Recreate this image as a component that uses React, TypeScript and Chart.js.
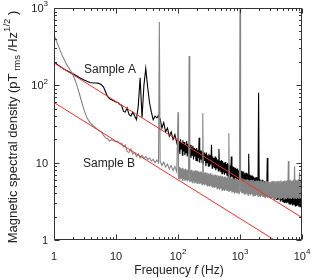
import React, { useEffect, useRef } from 'react';
import { Chart, registerables } from 'chart.js';
Chart.register(...registerables);

// Frequencies (Hz) shared by both spectra
const FREQ = [
  1, 1.2, 1.4, 1.6, 1.8, 2, 2.3, 2.6, 3, 3.4, 3.8, 4.3, 4.8, 5.3, 5.8, 6.3, 6.8, 7.3, 7.9, 8.5, 9.2, 10,
  10.7, 11.5, 12.3, 13.2, 14.1, 15.1, 16.2, 17.4, 18.6, 20, 21.4, 22.9, 24.5, 26.3, 28.2, 30.2, 32.4, 34.7,
  37.2, 39.8, 42.7, 45.7, 48.5, 50, 51.5, 55, 58.9, 63.1, 67.6, 72.4, 77.6, 83.2, 89.1, 95.5,
  100, 102, 105, 107, 110, 112, 115, 118, 120, 123,
  126, 129, 132, 135, 138, 141, 145, 148, 151, 155,
  158, 162, 166, 170, 174, 178, 182, 186, 191, 195,
  200, 204, 209, 214, 219, 224, 229, 234, 240, 245,
  251, 257, 263, 269, 275, 282, 288, 295, 302, 309,
  316, 324, 331, 339, 347, 355, 363, 372, 380, 389,
  398, 407, 417, 427, 437, 447, 457, 468, 479, 490,
  501, 513, 525, 537, 550, 562, 575, 589, 603, 617,
  631, 646, 661, 676, 692, 708, 724, 741, 759, 776,
  794, 813, 832, 851, 871, 891, 912, 933, 955, 977,
  1000, 1023, 1047, 1072, 1096, 1122, 1148, 1175, 1202, 1230,
  1259, 1288, 1318, 1349, 1380, 1413, 1445, 1479, 1514, 1549,
  1585, 1622, 1660, 1698, 1738, 1778, 1820, 1862, 1905, 1950,
  1995, 2042, 2089, 2138, 2188, 2239, 2291, 2344, 2399, 2455,
  2512, 2570, 2630, 2692, 2754, 2818, 2884, 2951, 3020, 3090,
  3162, 3236, 3311, 3388, 3467, 3548, 3631, 3715, 3802, 3890,
  3981, 4074, 4169, 4266, 4365, 4467, 4571, 4677, 4786, 4898,
  5012, 5129, 5248, 5370, 5495, 5623, 5754, 5888, 6026, 6166,
  6310, 6457, 6607, 6761, 6918, 7079, 7244, 7413, 7586, 7762,
  7943, 8128, 8318, 8511, 8710, 8913, 9120, 9333, 9550, 9772,
  10000,
];

// Sample A (black)
const SAMPLE_A = [
  200, 180, 165, 155, 148, 142, 133, 125, 118, 113, 109, 107, 107, 106, 102, 95, 82, 72, 67, 65, 63, 61,
  60, 57, 55, 46, 45, 51, 42, 40, 45, 40, 36, 55, 125, 38, 100, 165, 95, 60,
  45, 36, 40, 38, 41, 38, 37, 28, 33, 25, 28, 22, 25, 20, 23, 18,
  21, 14, 19, 13, 20, 15, 18, 12.5, 19.5, 14,
  18.5, 12.5, 17, 13.5, 19, 12, 17.5, 13, 16, 12,
  17, 11.5, 16, 12.5, 16.5, 11, 15.5, 12, 15, 10.5,
  15.5, 10.5, 14.5, 11.5, 21, 10, 14.5, 11, 14, 10,
  14, 9.5, 13.5, 10.5, 13, 9, 13.5, 10, 12.5, 9,
  13, 9, 12.5, 9.5, 17, 8.5, 12, 9, 11.5, 8.5,
  12, 8, 11.5, 8.5, 11, 7.8, 15, 8, 10.5, 7.5,
  10.8, 7.2, 10.5, 7.6, 10, 7, 10.2, 7.3, 9.6, 6.8,
  9.8, 6.6, 9.5, 7, 9.2, 6.4, 12, 6.6, 9, 6.2,
  8.8, 6, 8.6, 6.3, 8.3, 5.8, 8.4, 6, 8, 5.6,
  8, 5.4, 7.8, 5.6, 7.6, 5.2, 7.7, 5.4, 7.3, 5.1,
  7.4, 5, 7.2, 5.2, 13, 4.8, 7, 5, 6.8, 4.7,
  6.8, 4.5, 6.6, 4.7, 6.4, 4.4, 6.5, 4.5, 6.2, 4.3,
  80, 4.2, 6.1, 4.3, 5.9, 4, 6, 4.2, 5.7, 3.9,
  5.8, 3.9, 5.6, 4, 11.5, 3.7, 5.4, 3.8, 5.2, 3.6,
  5.3, 3.5, 5.1, 3.6, 5, 3.4, 5, 3.5, 4.8, 3.3,
  4.9, 3.3, 4.7, 3.4, 4.6, 3.2, 4.6, 3.3, 4.4, 3.1,
  4.5, 3.05, 4.4, 3.1, 4.3, 3, 4.3, 3.05, 4.2, 2.9,
  4.2, 2.9, 4.1, 2.95, 4, 2.8, 4, 2.85, 3.9, 2.75,
  3.9, 2.75, 3.9, 2.8, 3.8, 2.7, 3.8, 2.7, 3.8, 2.65,
  3.6,
];

// Sample B (grey)
const SAMPLE_B = [
  450, 310, 230, 185, 160, 140, 105, 75, 50, 38, 33, 30, 28, 26, 25, 22.5, 21, 20.5, 19, 20, 19, 18.5,
  19, 17.5, 18, 16, 17, 14, 13.5, 15, 13, 13.5, 12, 13, 11.5, 12.5, 11.5, 12, 11, 11.5,
  10.5, 11, 10, 10.8, 10, 660, 10.5, 9.2, 10.2, 8.8, 9.6, 8.3, 9.2, 7.9, 8.9, 7.6,
  45, 6.2, 8.8, 6, 8.5, 6.3, 8.4, 5.9, 8.6, 6.1,
  8.2, 5.8, 8.4, 6, 8.1, 5.7, 8.2, 5.9, 240, 5.6,
  8, 5.7, 8.1, 5.5, 7.9, 5.7, 7.8, 5.4, 8, 5.5,
  7.8, 5.4, 7.9, 5.5, 7.6, 5.3, 7.7, 5.4, 7.5, 5.2,
  44, 5.3, 7.4, 5.1, 7.5, 5.2, 7.3, 5, 7.4, 5.1,
  7.2, 4.9, 7.3, 5, 7, 4.8, 7.1, 4.9, 6.9, 4.7,
  7, 4.8, 6.8, 4.6, 6.9, 4.7, 6.7, 4.5, 6.8, 4.6,
  6.6, 4.4, 6.7, 4.5, 6.5, 4.3, 6.6, 4.4, 6.4, 4.3,
  6.5, 4.3, 24, 4.2, 6.4, 4.3, 6.3, 4.1, 6.3, 4.2,
  6.2, 4, 6.3, 4.1, 6.1, 4, 6.2, 4.1, 6, 3.9,
  1500, 4.2, 6.3, 4, 6.1, 4.1, 6.2, 3.9, 6.1, 4,
  6, 3.9, 6.1, 3.8, 6, 4, 5.9, 3.8, 6, 3.9,
  5.9, 3.7, 6, 3.8, 5.8, 3.7, 5.9, 3.8, 5.8, 3.6,
  5.9, 3.7, 5.8, 3.6, 5.9, 3.7, 5.7, 3.6, 5.8, 3.6,
  5.7, 3.5, 5.8, 3.6, 5.7, 3.5, 5.8, 3.6, 5.6, 3.5,
  5.7, 3.5, 5.8, 3.5, 5.7, 3.4, 5.8, 3.5, 5.7, 3.4,
  5.8, 3.5, 5.7, 3.4, 5.8, 3.5, 5.9, 3.4, 5.7, 3.5,
  5.8, 3.4, 5.9, 3.5, 5.8, 3.4, 5.9, 3.5, 10.5, 3.4,
  5.9, 3.5, 6, 3.4, 5.8, 3.5, 6, 3.4, 9, 3.5,
  6, 3.4, 5.9, 3.5, 6.1, 3.4, 7.5, 3.5, 6, 3.4,
  6,
];

// Red reference lines (f^-1/2)
const RED_FREQ = [1, 10000];
const RED_A = [195, 1.95];
const RED_B = [60, 0.6];

const X_TICKS = [1, 10, 100, 1000, 10000];
const X_TICK_LABELS = [['1', ''], ['10', ''], ['10', '2'], ['10', '3'], ['10', '4']];
const Y_TICKS = [1, 10, 100, 1000];
const Y_TICK_LABELS = [['1', ''], ['10', ''], ['10', '2'], ['10', '3']];

const FONT = '"Liberation Sans", Arial, sans-serif';
const TEXT = '#222';

const axesPlugin = {
  id: 'customAxes',
  afterDraw(chart: any) {
    const { ctx, chartArea: a, scales } = chart;
    const xs = scales.x;
    const ys = scales.y;
    ctx.save();
    ctx.strokeStyle = '#333';
    ctx.lineWidth = 1;
    const L = Math.round(a.left) + 0.5;
    const R = Math.round(a.right) - 0.5;
    const T = Math.round(a.top) + 0.5;
    const B = Math.round(a.bottom) - 0.5;
    ctx.beginPath();
    ctx.rect(L, T, R - L, B - T);
    ctx.stroke();

    ctx.beginPath();
    for (let d = 1; d <= 10000; d *= 10) {
      for (let m = 1; m <= 9; m++) {
        const v = d * m;
        if (v > 10000) break;
        const len = m === 1 ? 5 : 2.5;
        const px = Math.round(xs.getPixelForValue(v)) + 0.5;
        ctx.moveTo(px, B); ctx.lineTo(px, B - len);
        ctx.moveTo(px, T); ctx.lineTo(px, T + len);
      }
    }
    for (let d = 1; d <= 1000; d *= 10) {
      for (let m = 1; m <= 9; m++) {
        const v = d * m;
        if (v > 1000) break;
        const len = m === 1 ? 5 : 2.5;
        const py = Math.round(ys.getPixelForValue(v)) + 0.5;
        ctx.moveTo(L, py); ctx.lineTo(L + len, py);
        ctx.moveTo(R, py); ctx.lineTo(R - len, py);
      }
    }
    ctx.stroke();

    ctx.fillStyle = TEXT;
    ctx.textBaseline = 'middle';
    ctx.textAlign = 'left';
    const base = `11px ${FONT}`;
    const sup = `8px ${FONT}`;
    X_TICKS.forEach((v, i) => {
      const [b, s] = X_TICK_LABELS[i];
      ctx.font = base;
      const wb = ctx.measureText(b).width;
      ctx.font = sup;
      const ws = s ? ctx.measureText(s).width : 0;
      const px = xs.getPixelForValue(v);
      const x0 = px - (wb + ws) / 2;
      ctx.font = base;
      ctx.fillText(b, x0, 257);
      if (s) { ctx.font = sup; ctx.fillText(s, x0 + wb, 252); }
    });
    Y_TICKS.forEach((v, i) => {
      const [b, s] = Y_TICK_LABELS[i];
      ctx.font = base;
      const wb = ctx.measureText(b).width;
      ctx.font = sup;
      const ws = s ? ctx.measureText(s).width : 0;
      const py = ys.getPixelForValue(v);
      const x0 = 48 - wb - ws;
      ctx.font = base;
      ctx.fillText(b, x0, py + 1);
      if (s) { ctx.font = sup; ctx.fillText(s, x0 + wb, py - 4); }
    });

    // x title
    const t1 = 'Frequency ';
    const t2 = 'f';
    const t3 = ' (Hz)';
    ctx.font = `12px ${FONT}`;
    const w1 = ctx.measureText(t1).width;
    const w3 = ctx.measureText(t3).width;
    ctx.font = `italic 12px ${FONT}`;
    const w2 = ctx.measureText(t2).width;
    let xx = 179 - (w1 + w2 + w3) / 2;
    ctx.font = `12px ${FONT}`;
    ctx.fillText(t1, xx, 271); xx += w1;
    ctx.font = `italic 12px ${FONT}`;
    ctx.fillText(t2, xx, 271); xx += w2;
    ctx.font = `12px ${FONT}`;
    ctx.fillText(t3, xx, 271);

    // y title
    const parts: [string, string, number][] = [
      ['Magnetic spectral density (pT', `13px ${FONT}`, 0],
      [' rms', `9.5px ${FONT}`, 4],
      [' /Hz', `13px ${FONT}`, 0],
      ['1/2', `9.5px ${FONT}`, -6],
      [' )', `13px ${FONT}`, 0],
    ];
    let total = 0;
    const widths = parts.map(([t, f]) => { ctx.font = f; const w = ctx.measureText(t).width; total += w; return w; });
    ctx.save();
    ctx.translate(13, 127);
    ctx.rotate(-Math.PI / 2);
    let px = -total / 2;
    parts.forEach(([t, f, dy], i) => {
      ctx.font = f;
      ctx.fillText(t, px, dy);
      px += widths[i];
    });
    ctx.restore();

    ctx.font = `12px ${FONT}`;
    ctx.fillText('Sample A', 84, 70);
    ctx.fillText('Sample B', 83, 164);
    ctx.restore();
  },
};

const zip = (xsArr: number[], ysArr: number[]) => xsArr.map((x, i) => ({ x, y: ysArr[i] }));

export default function App() {
  const ref = useRef<HTMLCanvasElement>(null);
  useEffect(() => {
    if (!ref.current) return;
    const chart = new Chart(ref.current, {
      type: 'scatter',
      data: {
        datasets: [
          { data: zip(RED_FREQ, RED_A), showLine: true, borderColor: '#e8322e', borderWidth: 1, pointRadius: 0, order: 0, clip: 0 } as any,
          { data: zip(RED_FREQ, RED_B), showLine: true, borderColor: '#e8322e', borderWidth: 1, pointRadius: 0, order: 0, clip: 0 } as any,
          { data: zip(FREQ, SAMPLE_B), showLine: true, borderColor: '#858585', borderWidth: 1.1, pointRadius: 0, order: 1, clip: 0 } as any,
          { data: zip(FREQ, SAMPLE_A), showLine: true, borderColor: '#000000', borderWidth: 1.1, pointRadius: 0, order: 2, clip: 0 } as any,
        ],
      },
      options: {
        responsive: false,
        animation: false,
        layout: { padding: { left: 54, top: 8, right: 34, bottom: 38 } },
        scales: {
          x: { type: 'logarithmic', min: 1, max: 10000, display: false },
          y: { type: 'logarithmic', min: 1, max: 1000, display: false },
        },
        elements: { line: { tension: 0 }, point: { radius: 0 } },
        plugins: { legend: { display: false }, tooltip: { enabled: false } },
      },
      plugins: [axesPlugin],
    });
    return () => chart.destroy();
  }, []);
  return (
    <div style={{ position: 'absolute', left: 0, top: 0, width: 336, height: 278, background: '#fff' }}>
      <canvas ref={ref} width={336} height={278} style={{ display: 'block' }} />
    </div>
  );
}
